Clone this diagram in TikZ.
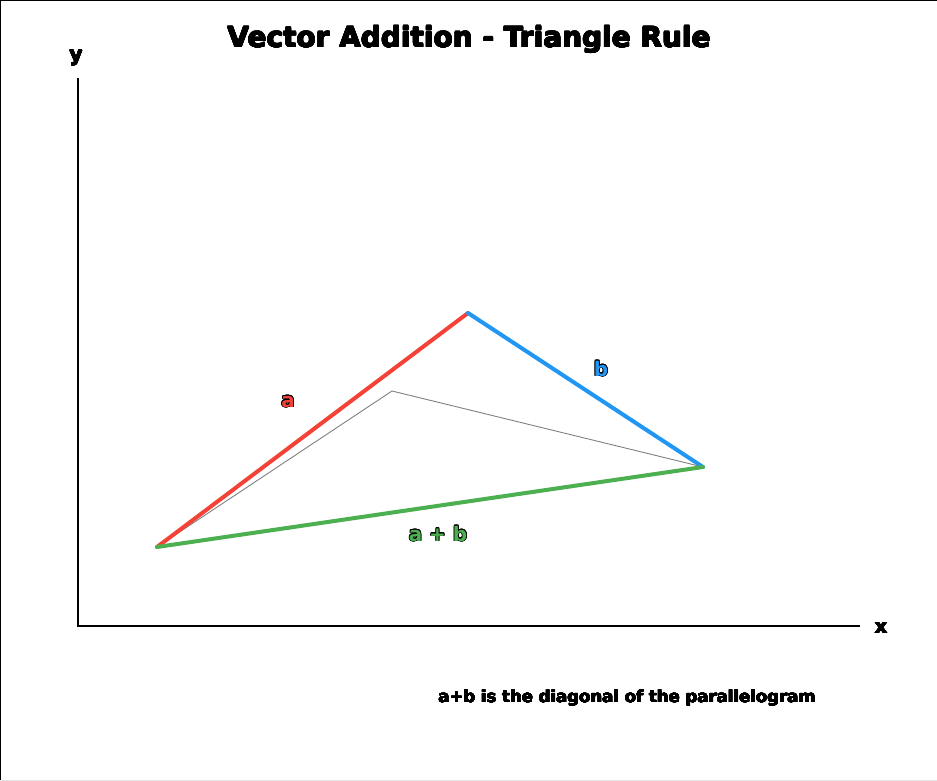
\documentclass[tikz,border=0pt]{standalone}
\usepackage{fontspec}
\setmainfont{DejaVu Sans}
\usepackage{xcolor}
\usepackage{contour}
\usepackage{tikz}
\usetikzlibrary{positioning,calc}
\definecolor{VecRed}{RGB}{244,67,54}
\definecolor{VecBlue}{RGB}{33,150,243}
\definecolor{VecGreen}{RGB}{76,175,80}
\contourlength{0.7pt}
\tikzset{
    axisline/.style={draw=black, line width=1.4pt},
    vec/.style={line width=4pt, line cap=round}
}

\begin{document}
\begin{tikzpicture}[
        x=1pt, y=-1pt,
        % --- VECTORS ---
        vec_a/.style={vec, draw=VecRed},
        vec_b/.style={vec, draw=VecBlue},
        vec_sum/.style={vec, draw=VecGreen},
        guide/.style={draw=gray, line width=0.9pt},
        % --- TEXT ---
        txt/.style={font=\bfseries\fontsize{20}{22}\selectfont, inner sep=1pt},
        title/.style={font=\bfseries\fontsize{28}{32}\selectfont},
        note/.style={font=\bfseries\fontsize{16.5}{19}\selectfont}
    ]

        \useasboundingbox (0,0) rectangle (937,781);
        % --- FRAME ---
        \draw[black, line width=2pt] (0,781) -- (0,0) -- (937,0);
        \draw[gray!20, line width=1pt] (0,780.5) -- (937,780.5);

        % --- AXES ---
        \coordinate (orig) at (78,626);
        \coordinate (ytop) at (78,78);
        \coordinate (xend) at (860,626);
        \draw[axisline] (ytop) -- (orig) -- (xend);
        \node[txt] (ylab) at (76,58) {\contourlength{0.3pt}\contour{black}{y}};
        \node[txt] (xlab) at (881,628) {\contourlength{0.3pt}\contour{black}{x}};

        % --- TRIANGLE ---
        \coordinate (P) at (157,547);
        \coordinate (Q) at (468,313);
        \coordinate (R) at (703,467);
        \coordinate (M) at (392,391);
        \draw[guide] (P) -- (M) -- (R);
        \draw[vec_a] (P) -- (Q);
        \draw[vec_b] (Q) -- (R);
        \draw[vec_sum] (P) -- (R);

        % --- LABELS ---
        \node[txt] (alab) at (288,402) {\contour{black}{\textcolor{VecRed}{a}}};
        \node[txt] (blab) at (601,369) {\contour{black}{\textcolor{VecBlue}{b}}};
        \node[txt] (slab) at (438,534) {\contour{black}{\textcolor{VecGreen}{a + b}}};

        \node[title] (head) at (469,40) {\contourlength{0.5pt}\contour{black}{Vector Addition - Triangle Rule}};
        \node[note] (foot) at (627,698) {\contourlength{0.3pt}\contour{black}{a+b is the diagonal of the parallelogram}};

    \end{tikzpicture}
\end{document}
